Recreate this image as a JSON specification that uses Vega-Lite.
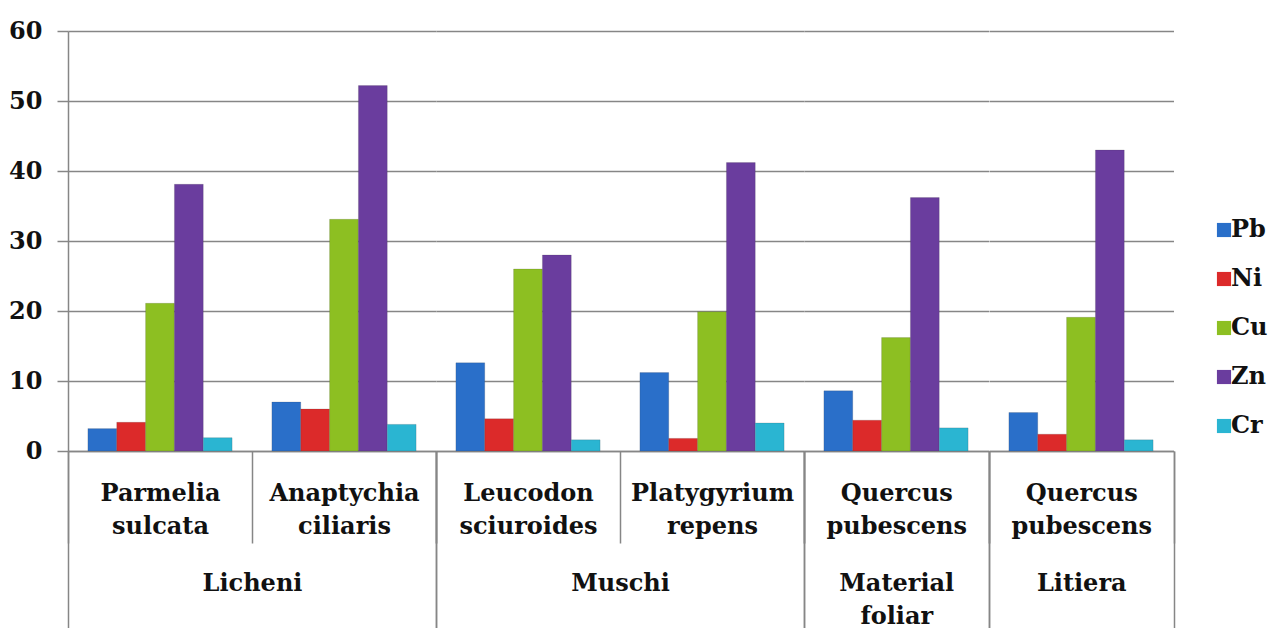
{
  "$schema": "https://vega.github.io/schema/vega-lite/v6.json",
  "padding": {"left": 8, "top": 19, "right": 0, "bottom": 0},
  "background": "white",
  "config": {
    "font": "DejaVu Serif",
    "view": {"stroke": null},
    "axis": {
      "labelFont": "DejaVu Serif",
      "labelFontWeight": "bold",
      "labelFontSize": 24,
      "labelColor": "#111111",
      "domainColor": "#868686",
      "domainWidth": 1.5,
      "tickColor": "#868686",
      "tickWidth": 1.5,
      "gridColor": "#868686",
      "gridWidth": 1.5,
      "gridOpacity": 1,
      "title": null
    },
    "legend": {
      "labelFont": "DejaVu Serif",
      "labelFontWeight": "bold",
      "labelFontSize": 24,
      "labelColor": "#111111"
    }
  },
  "datasets": {
    "metals": [
      {"group": "Licheni", "sample": "Licheni / Parmelia sulcata", "metal": "Pb", "value": 3.2},
      {"group": "Licheni", "sample": "Licheni / Parmelia sulcata", "metal": "Ni", "value": 4.1},
      {"group": "Licheni", "sample": "Licheni / Parmelia sulcata", "metal": "Cu", "value": 21.1},
      {"group": "Licheni", "sample": "Licheni / Parmelia sulcata", "metal": "Zn", "value": 38.1},
      {"group": "Licheni", "sample": "Licheni / Parmelia sulcata", "metal": "Cr", "value": 1.9},
      {"group": "Licheni", "sample": "Licheni / Anaptychia ciliaris", "metal": "Pb", "value": 7.0},
      {"group": "Licheni", "sample": "Licheni / Anaptychia ciliaris", "metal": "Ni", "value": 6.0},
      {"group": "Licheni", "sample": "Licheni / Anaptychia ciliaris", "metal": "Cu", "value": 33.1},
      {"group": "Licheni", "sample": "Licheni / Anaptychia ciliaris", "metal": "Zn", "value": 52.2},
      {"group": "Licheni", "sample": "Licheni / Anaptychia ciliaris", "metal": "Cr", "value": 3.8},
      {"group": "Muschi", "sample": "Muschi / Leucodon sciuroides", "metal": "Pb", "value": 12.6},
      {"group": "Muschi", "sample": "Muschi / Leucodon sciuroides", "metal": "Ni", "value": 4.6},
      {"group": "Muschi", "sample": "Muschi / Leucodon sciuroides", "metal": "Cu", "value": 26.0},
      {"group": "Muschi", "sample": "Muschi / Leucodon sciuroides", "metal": "Zn", "value": 28.0},
      {"group": "Muschi", "sample": "Muschi / Leucodon sciuroides", "metal": "Cr", "value": 1.6},
      {"group": "Muschi", "sample": "Muschi / Platygyrium repens", "metal": "Pb", "value": 11.2},
      {"group": "Muschi", "sample": "Muschi / Platygyrium repens", "metal": "Ni", "value": 1.8},
      {"group": "Muschi", "sample": "Muschi / Platygyrium repens", "metal": "Cu", "value": 19.9},
      {"group": "Muschi", "sample": "Muschi / Platygyrium repens", "metal": "Zn", "value": 41.2},
      {"group": "Muschi", "sample": "Muschi / Platygyrium repens", "metal": "Cr", "value": 4.0},
      {"group": "Material foliar", "sample": "Material foliar / Quercus pubescens", "metal": "Pb", "value": 8.6},
      {"group": "Material foliar", "sample": "Material foliar / Quercus pubescens", "metal": "Ni", "value": 4.4},
      {"group": "Material foliar", "sample": "Material foliar / Quercus pubescens", "metal": "Cu", "value": 16.2},
      {"group": "Material foliar", "sample": "Material foliar / Quercus pubescens", "metal": "Zn", "value": 36.2},
      {"group": "Material foliar", "sample": "Material foliar / Quercus pubescens", "metal": "Cr", "value": 3.3},
      {"group": "Litiera", "sample": "Litiera / Quercus pubescens", "metal": "Pb", "value": 5.5},
      {"group": "Litiera", "sample": "Litiera / Quercus pubescens", "metal": "Ni", "value": 2.4},
      {"group": "Litiera", "sample": "Litiera / Quercus pubescens", "metal": "Cu", "value": 19.1},
      {"group": "Litiera", "sample": "Litiera / Quercus pubescens", "metal": "Zn", "value": 43.0},
      {"group": "Litiera", "sample": "Litiera / Quercus pubescens", "metal": "Cr", "value": 1.6}
    ]
  },
  "spacing": 0,
  "bounds": "flush",
  "resolve": {"scale": {"color": "shared", "y": "shared"}, "legend": {"color": "shared"}, "axis": {"y": "independent"}},
  "hconcat": [
    {
      "width": 368, "height": 420,
      "data": {"name": "metals"},
      "transform": [{"filter": "datum.group == 'Licheni'"}],
      "resolve": {"scale": {"x": "independent"}, "axis": {"x": "independent"}},
      "layer": [
        {
          "mark": {"type": "bar", "stroke": "#33333355", "strokeWidth": 0.5},
          "encoding": {
            "x": {"field": "sample", "type": "nominal", "sort": null,
                  "scale": {"paddingInner": 0, "paddingOuter": 0},
                  "axis": {"orient": "bottom", "labelFont": "DejaVu Serif", "labelFontWeight": "bold", "labelFontSize": 24, "tickBand": "extent", "tickSize": 92, "labelPadding": -62, "labelLineHeight": 33, "labelAngle": 0, "labelOverlap": false, "labelLimit": 0, "labelExpr": "datum.label ? split(split(datum.label, ' / ')[1], ' ') : ''"}},
            "xOffset": {"field": "metal", "type": "nominal", "sort": ["Pb", "Ni", "Cu", "Zn", "Cr"], "scale": {"paddingInner": 0, "paddingOuter": 0.69}},
            "y": {"field": "value", "type": "quantitative", "scale": {"domain": [0, 60], "nice": false},
                  "axis": {"values": [0, 10, 20, 30, 40, 50, 60], "labelFont": "DejaVu Serif", "labelFontWeight": "bold", "labelFontSize": 24, "tickSize": 11, "labelPadding": 15, "grid": true}},
            "color": {"field": "metal", "type": "nominal", "sort": ["Pb", "Ni", "Cu", "Zn", "Cr"],
                      "scale": {"domain": ["Pb", "Ni", "Cu", "Zn", "Cr"], "range": ["#2a6fc9", "#dc2a2a", "#8dbf22", "#6a3d9e", "#2ab5d2"]},
                      "legend": {"title": null, "orient": "none", "legendX": 1144, "legendY": 187, "labelFont": "DejaVu Serif", "labelFontWeight": "bold", "labelFontSize": 24, "symbolType": "square", "symbolSize": 200, "symbolStrokeWidth": 0, "rowPadding": 25, "labelOffset": -5, "padding": 0}}
          }
        },
        {
          "mark": {"type": "rect", "opacity": 0},
          "encoding": {
            "x": {"field": "group", "type": "nominal",
                  "scale": {"paddingInner": 0, "paddingOuter": 0},
                  "axis": {"orient": "bottom", "labelFont": "DejaVu Serif", "labelFontWeight": "bold", "labelFontSize": 24, "tickBand": "extent", "tickSize": 177, "domain": false, "labelPadding": -57, "labelLineHeight": 33, "labelAngle": 0, "labelOverlap": false, "labelLimit": 0, "labelExpr": "datum.label ? split(datum.label, ' ') : ''"}}
          }
        }
      ]
    },
    {
      "width": 368, "height": 420,
      "data": {"name": "metals"},
      "transform": [{"filter": "datum.group == 'Muschi'"}],
      "resolve": {"scale": {"x": "independent"}, "axis": {"x": "independent"}},
      "layer": [
        {
          "mark": {"type": "bar", "stroke": "#33333355", "strokeWidth": 0.5},
          "encoding": {
            "x": {"field": "sample", "type": "nominal", "sort": null,
                  "scale": {"paddingInner": 0, "paddingOuter": 0},
                  "axis": {"orient": "bottom", "labelFont": "DejaVu Serif", "labelFontWeight": "bold", "labelFontSize": 24, "tickBand": "extent", "tickSize": 92, "labelPadding": -62, "labelLineHeight": 33, "labelAngle": 0, "labelOverlap": false, "labelLimit": 0, "labelExpr": "datum.label ? split(split(datum.label, ' / ')[1], ' ') : ''"}},
            "xOffset": {"field": "metal", "type": "nominal", "sort": ["Pb", "Ni", "Cu", "Zn", "Cr"], "scale": {"paddingInner": 0, "paddingOuter": 0.69}},
            "y": {"field": "value", "type": "quantitative", "scale": {"domain": [0, 60], "nice": false},
                  "axis": {"values": [0, 10, 20, 30, 40, 50, 60], "grid": true, "labels": false, "ticks": false, "domain": false}},
            "color": {"field": "metal", "type": "nominal", "sort": ["Pb", "Ni", "Cu", "Zn", "Cr"]}
          }
        },
        {
          "mark": {"type": "rect", "opacity": 0},
          "encoding": {
            "x": {"field": "group", "type": "nominal",
                  "scale": {"paddingInner": 0, "paddingOuter": 0},
                  "axis": {"orient": "bottom", "labelFont": "DejaVu Serif", "labelFontWeight": "bold", "labelFontSize": 24, "tickBand": "extent", "tickSize": 177, "domain": false, "labelPadding": -57, "labelLineHeight": 33, "labelAngle": 0, "labelOverlap": false, "labelLimit": 0, "labelExpr": "datum.label ? split(datum.label, ' ') : ''"}}
          }
        }
      ]
    },
    {
      "width": 184.5, "height": 420,
      "data": {"name": "metals"},
      "transform": [{"filter": "datum.group == 'Material foliar'"}],
      "resolve": {"scale": {"x": "independent"}, "axis": {"x": "independent"}},
      "layer": [
        {
          "mark": {"type": "bar", "stroke": "#33333355", "strokeWidth": 0.5},
          "encoding": {
            "x": {"field": "sample", "type": "nominal", "sort": null,
                  "scale": {"paddingInner": 0, "paddingOuter": 0},
                  "axis": {"orient": "bottom", "labelFont": "DejaVu Serif", "labelFontWeight": "bold", "labelFontSize": 24, "tickBand": "extent", "tickSize": 92, "labelPadding": -62, "labelLineHeight": 33, "labelAngle": 0, "labelOverlap": false, "labelLimit": 0, "labelExpr": "datum.label ? split(split(datum.label, ' / ')[1], ' ') : ''"}},
            "xOffset": {"field": "metal", "type": "nominal", "sort": ["Pb", "Ni", "Cu", "Zn", "Cr"], "scale": {"paddingInner": 0, "paddingOuter": 0.69}},
            "y": {"field": "value", "type": "quantitative", "scale": {"domain": [0, 60], "nice": false},
                  "axis": {"values": [0, 10, 20, 30, 40, 50, 60], "grid": true, "labels": false, "ticks": false, "domain": false}},
            "color": {"field": "metal", "type": "nominal", "sort": ["Pb", "Ni", "Cu", "Zn", "Cr"]}
          }
        },
        {
          "mark": {"type": "rect", "opacity": 0},
          "encoding": {
            "x": {"field": "group", "type": "nominal",
                  "scale": {"paddingInner": 0, "paddingOuter": 0},
                  "axis": {"orient": "bottom", "labelFont": "DejaVu Serif", "labelFontWeight": "bold", "labelFontSize": 24, "tickBand": "extent", "tickSize": 177, "domain": false, "labelPadding": -57, "labelLineHeight": 33, "labelAngle": 0, "labelOverlap": false, "labelLimit": 0, "labelExpr": "datum.label ? split(datum.label, ' ') : ''"}}
          }
        }
      ]
    },
    {
      "width": 184.5, "height": 420,
      "data": {"name": "metals"},
      "transform": [{"filter": "datum.group == 'Litiera'"}],
      "resolve": {"scale": {"x": "independent"}, "axis": {"x": "independent"}},
      "layer": [
        {
          "mark": {"type": "bar", "stroke": "#33333355", "strokeWidth": 0.5},
          "encoding": {
            "x": {"field": "sample", "type": "nominal", "sort": null,
                  "scale": {"paddingInner": 0, "paddingOuter": 0},
                  "axis": {"orient": "bottom", "labelFont": "DejaVu Serif", "labelFontWeight": "bold", "labelFontSize": 24, "tickBand": "extent", "tickSize": 92, "labelPadding": -62, "labelLineHeight": 33, "labelAngle": 0, "labelOverlap": false, "labelLimit": 0, "labelExpr": "datum.label ? split(split(datum.label, ' / ')[1], ' ') : ''"}},
            "xOffset": {"field": "metal", "type": "nominal", "sort": ["Pb", "Ni", "Cu", "Zn", "Cr"], "scale": {"paddingInner": 0, "paddingOuter": 0.69}},
            "y": {"field": "value", "type": "quantitative", "scale": {"domain": [0, 60], "nice": false},
                  "axis": {"values": [0, 10, 20, 30, 40, 50, 60], "grid": true, "labels": false, "ticks": false, "domain": false}},
            "color": {"field": "metal", "type": "nominal", "sort": ["Pb", "Ni", "Cu", "Zn", "Cr"]}
          }
        },
        {
          "mark": {"type": "rect", "opacity": 0},
          "encoding": {
            "x": {"field": "group", "type": "nominal",
                  "scale": {"paddingInner": 0, "paddingOuter": 0},
                  "axis": {"orient": "bottom", "labelFont": "DejaVu Serif", "labelFontWeight": "bold", "labelFontSize": 24, "tickBand": "extent", "tickSize": 177, "domain": false, "labelPadding": -57, "labelLineHeight": 33, "labelAngle": 0, "labelOverlap": false, "labelLimit": 0, "labelExpr": "datum.label ? split(datum.label, ' ') : ''"}}
          }
        }
      ]
    }
  ]
}
